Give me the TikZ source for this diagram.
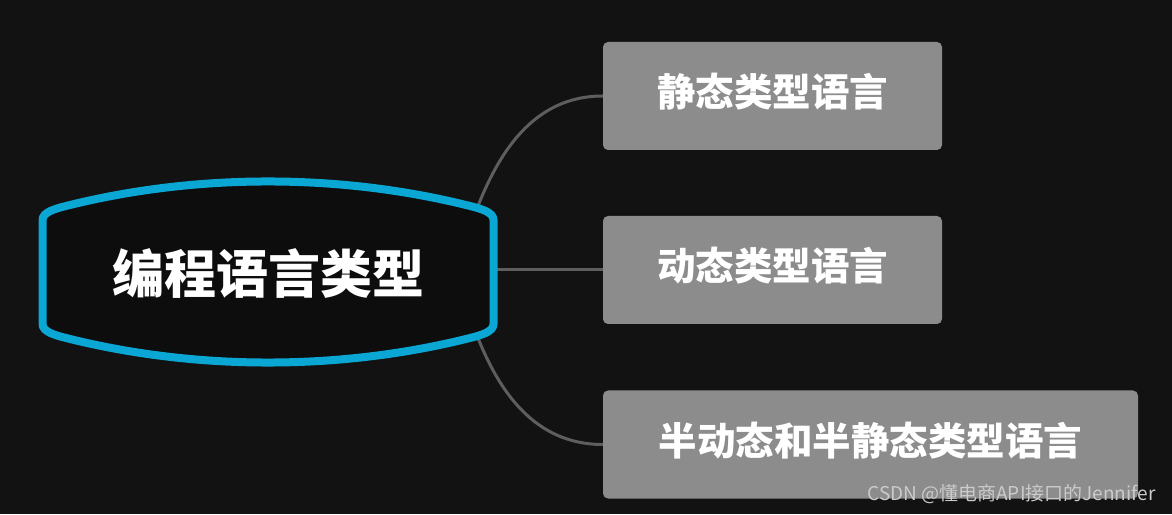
\documentclass[tikz,border=0pt]{standalone}
\usepackage{fontspec}
\newfontfamily\cjk{Noto Sans CJK SC}
\usetikzlibrary{backgrounds}
\definecolor{bgdark}{HTML}{121212}
\definecolor{hubblue}{HTML}{0AA6D4}
\definecolor{boxgrey}{HTML}{8C8C8C}
\definecolor{linkgrey}{HTML}{5E5E5E}
\tikzstyle{hub}=[minimum width=451pt,minimum height=181pt,inner sep=0pt,text=white,font=\cjk\bfseries\fontsize{52}{62}\selectfont]
\tikzstyle{leaf}=[rectangle,rounded corners=5pt,fill=boxgrey,minimum height=108pt,inner sep=0pt,text=white,text depth=12pt,font=\cjk\bfseries\fontsize{38.5}{46}\selectfont]
\tikzstyle{link}=[draw=linkgrey,line width=3pt]
\tikzstyle{rim}=[draw=hubblue,fill=bgdark!70!black,line width=8pt]

\begin{document}
\begin{tikzpicture}[x=1pt,y=1pt]
\node[hub] (H) at (268,240) {编程语言类型};
\node[leaf,minimum width=339pt] (S) at (772.5,418) {静态类型语言};
\node[leaf,minimum width=339pt] (D) at (772.5,244) {动态类型语言};
\node[leaf,minimum width=535pt] (M) at (870.5,69.5) {半动态和半静态类型语言};
\node[text=white!78!bgdark,font=\cjk\fontsize{19}{22}\selectfont] (W) at (1011.5,20) {CSDN @懂电商API接口的Jennifer};
\begin{pgfonlayer}{background}
\fill[bgdark] (0,0) rectangle (1172,514);
\draw[link] ([shift={(-20,-34)}]H.north east) to[out=70,in=180] (S.west);
\draw[link] (H.east |- D.west) -- (D.west);
\draw[link] ([shift={(-20,38)}]H.south east) to[out=-70,in=180] (M.west);
% hub outline, bowed top and bottom
\draw[rim] (42.5,242) -- (42.5,294) .. controls (42.5,302) and (56,305.5) .. (66,308)
  .. controls (196,340.7) and (340,340.7) .. (470,308)
  .. controls (480,305.5) and (493.5,302) .. (493.5,294) -- (493.5,190)
  .. controls (493.5,182) and (480,178.5) .. (470,176)
  .. controls (340,143.3) and (196,143.3) .. (66,176)
  .. controls (56,178.5) and (42.5,182) .. (42.5,190) -- cycle;
\end{pgfonlayer}
\end{tikzpicture}
\end{document}
